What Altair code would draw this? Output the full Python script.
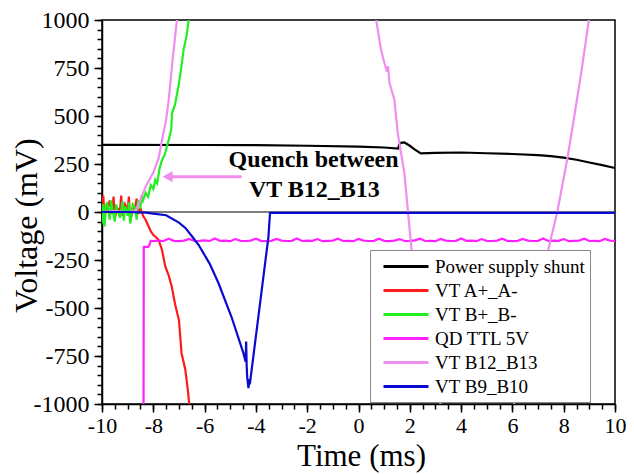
import altair as alt
import pandas as pd

# ---------------- data ----------------
series_names = ["Power supply shunt", "VT A+_A-", "VT B+_B-", "QD TTL 5V", "VT B12_B13", "VT B9_B10"]
series_colors = ["#000000", "#ff1a1a", "#22ee22", "#ff22ff", "#f08ef0", "#0a0ad0"]

shunt_t = [-10, -6, -4, -2, 0, 1.0, 1.55, 1.58, 1.65, 1.79, 2.0, 2.2, 2.43, 3.0, 4.0, 5.0, 6.0, 7.0, 7.5, 8.0, 8.5, 9.0, 9.5, 10]
shunt_v = [350, 349, 348, 345, 340, 336, 330, 350, 360, 362, 345, 325, 305, 308, 310, 306, 302, 296, 291, 283, 272, 258, 244, 229]

va_t = [-10, -9.95, -9.9, -9.85, -9.8, -9.7, -9.6, -9.55, -9.5, -9.4, -9.3, -9.25, -9.2, -9.1, -9.0, -8.95,
        -8.9, -8.8, -8.7, -8.65, -8.6, -8.5, -8.4, -8.3, -8.2, -8.1, -8.0, -7.9, -7.79, -7.66, -7.53, -7.4,
        -7.28, -7.15, -7.0, -6.9, -6.75, -6.65, -6.6]
va_v = [10, 85, -40, 30, 5, 60, -10, 80, -30, 20, 5, 85, -20, 40, 10, 80,
        -50, 15, 30, 70, -10, 20, -20, -40, -70, -100, -120, -130, -146, -198, -285, -330,
        -389, -480, -563, -734, -823, -930, -1000]

vb_t = [-10, -9.95, -9.9, -9.85, -9.8, -9.7, -9.65, -9.6, -9.5, -9.45, -9.4, -9.3, -9.2, -9.15, -9.1,
        -9.0, -8.95, -8.9, -8.8, -8.7, -8.65, -8.6, -8.5, -8.45, -8.4, -8.3, -8.2, -8.1, -8.0, -7.92,
        -7.85, -7.75, -7.66, -7.55, -7.4, -7.3, -7.27, -7.15, -7.0, -6.9, -6.82, -6.7, -6.62]
vb_v = [-60, 40, -75, 30, 50, -40, 60, 20, -50, 40, 10, -30, 55, -45, 30,
        -20, 50, -60, 40, 20, -40, 60, 30, 90, 60, 100, 80, 140, 120, 167,
        150, 230, 271, 300, 375, 430, 514, 560, 670, 760, 844, 920, 1000]

qd_t = [-8.38, -8.37, -8.2, -8.15, -8.1, -8.0,
        -7.8, -7.6, -7.4, -7.2, -7.0, -6.8, -6.6, -6.4, -6.2, -6.0,
        -5.8, -5.6, -5.4, -5.2, -5.0, -4.8, -4.6, -4.4, -4.2, -4.0,
        -3.8, -3.6, -3.4, -3.2, -3.0, -2.8, -2.6, -2.4, -2.2, -2.0,
        -1.8, -1.6, -1.4, -1.2, -1.0, -0.8, -0.6, -0.4, -0.2, 0.0,
        0.2, 0.4, 0.6, 0.8, 1.0, 1.2, 1.4, 1.6, 1.8, 2.0,
        2.2, 2.4, 2.6, 2.8, 3.0, 3.2, 3.4, 3.6, 3.8, 4.0,
        4.2, 4.4, 4.6, 4.8, 5.0, 5.2, 5.4, 5.6, 5.8, 6.0,
        6.2, 6.4, 6.6, 6.8, 7.0, 7.2, 7.4, 7.6, 7.8, 8.0,
        8.2, 8.4, 8.6, 8.8, 9.0, 9.2, 9.4, 9.6, 9.8, 10.0]
qd_v = [-1000, -182, -182, -172, -150, -151,
        -149, -151, -139, -150, -152, -149, -140, -151, -150, -148,
        -151, -138, -150, -149, -152, -141, -150, -151, -149, -139,
        -150, -152, -150, -140, -149, -151, -150, -138, -151, -149,
        -150, -141, -152, -150, -149, -139, -151, -150, -152, -140,
        -149, -151, -150, -139, -150, -152, -149, -141, -151, -150,
        -148, -139, -151, -150, -152, -140, -149, -151, -150, -138,
        -150, -149, -152, -141, -150, -151, -149, -139, -150, -152,
        -150, -140, -149, -151, -150, -138, -151, -149, -150, -141,
        -152, -150, -149, -139, -151, -150, -152, -140, -149, -151]

# VT B12_B13 leaves the plotted range twice: three visible pieces
b12_t1 = [-10, -9.5, -9.0, -8.7, -8.56, -8.3, -8.0, -7.79, -7.66, -7.5, -7.4, -7.25, -7.08]
b12_v1 = [0, 5, 0, 5, 45, 132, 205, 280, 375, 480, 583, 790, 1000]
b12_t2 = [0.69, 0.88, 1.01, 1.11, 1.15, 1.21, 1.40, 1.53, 1.79, 2.06, 2.6, 3.2]
b12_v2 = [1000, 844, 776, 731, 760, 672, 583, 411, 203, -187, -620, -1000]
b12_t3 = [6.06, 7.0, 7.48, 7.75, 8.14, 8.39, 8.7, 8.98]
b12_v3 = [-1000, -436, -150, 0, 276, 479, 740, 1000]

b9_t = [-10, -9, -8.3, -8.0, -7.5, -7.0, -6.75, -6.5, -6.23, -5.8, -5.46, -4.95, -4.49, -4.4, -4.38,
        -4.36, -4.34, -4.29, -4.25, -4.22, -3.8, -3.51, -3.45, 10]
b9_v = [0, 0, -3, -8, -17, -55, -83, -125, -172, -270, -370, -547, -734, -780, -675,
        -800, -860, -917, -870, -880, -435, -128, -5, -5]

# annotation
note_x = [-1.75, -1.72]
note_y = [271, 115]
note_text = ["Quench between", "VT B12_B13"]
arrow_t = [-7.44, -4.56]
arrow_v = [184, 184]

x_major = [-10, -8, -6, -4, -2, 0, 2, 4, 6, 8, 10]
y_major = [-1000, -750, -500, -250, 0, 250, 500, 750, 1000]
x_minor = [x_major[0] + 0.5 * i for i in range(41)]
y_minor = [y_major[0] + 50 * i for i in range(41)]

# ---------------- tables ----------------
pieces = [
    (series_names[0], "a", shunt_t, shunt_v),
    (series_names[1], "a", va_t, va_v),
    (series_names[2], "a", vb_t, vb_v),
    (series_names[3], "a", qd_t, qd_v),
    (series_names[4], "a", b12_t1, b12_v1),
    (series_names[4], "b", b12_t2, b12_v2),
    (series_names[4], "c", b12_t3, b12_v3),
    (series_names[5], "a", b9_t, b9_v),
]
rows = []
for name, seg, ts, vs in pieces:
    for t, v in zip(ts, vs):
        rows.append({"series": name, "seg": name + seg, "t": t, "v": v, "idx": len(rows)})
df = pd.DataFrame(rows)

FONT = "Liberation Serif"
xscale = alt.Scale(domain=[-10, 10], nice=False, zero=False)
yscale = alt.Scale(domain=[-1000, 1000], nice=False, zero=False)

x_axis = alt.Axis(
    values=x_major, title="Time (ms)", orient="bottom",
    labelExpr="datum.value + ''", tickSize=8, labelFont=FONT, labelFontSize=22,
    labelOverlap=False, labelPadding=3, labelFlush=False,
    titleFont=FONT, titleFontSize=31,
    titleX=259, titleY=61, titleBaseline="alphabetic", titleAnchor="middle",
)
y_axis = alt.Axis(
    values=y_major, title="Voltage (mV)", orient="left",
    labelExpr="datum.value + ''", tickSize=8, labelFont=FONT, labelFontSize=24,
    labelOverlap=False, labelPadding=5, labelFlush=False,
    titleFont=FONT, titleFontSize=32,
    titleX=-66, titleY=205, titleBaseline="alphabetic", titleAnchor="middle",
)
x_axis_minor = alt.Axis(values=x_minor, orient="bottom", labels=False, domain=False, tickSize=5, title=None)
y_axis_minor = alt.Axis(values=y_minor, orient="left", labels=False, domain=False, tickSize=5, title=None)

minor = alt.Chart(pd.DataFrame({"t": [-10, 10], "v": [-1000, 1000]})).mark_point(opacity=0).encode(
    x=alt.X("t:Q", scale=xscale, axis=x_axis_minor),
    y=alt.Y("v:Q", scale=yscale, axis=y_axis_minor),
)

zero = alt.Chart(pd.DataFrame({"y": [0]})).mark_rule(color="black", strokeWidth=1.2).encode(
    y=alt.Y("y:Q", scale=yscale, axis=y_axis)
)

lines = alt.Chart(df).mark_line(strokeWidth=2.2, clip=True).encode(
    x=alt.X("t:Q", scale=xscale, axis=x_axis),
    y=alt.Y("v:Q", scale=yscale, axis=y_axis),
    color=alt.Color(
        "series:N",
        scale=alt.Scale(domain=series_names, range=series_colors),
        sort=series_names,
        legend=alt.Legend(
            orient="none", legendX=268, legendY=230, title=None,
            symbolType="M-0.3,0H4.2", symbolSize=400, symbolStrokeWidth=3,
            labelFont=FONT, labelFontSize=19, labelColor="black", labelOffset=37, labelLimit=300,
            padding=5, rowPadding=2, strokeColor="#888888", fillColor="white",
        ),
    ),
    detail="seg:N",
    order="idx:Q",
)

arrow_df = pd.DataFrame({"t": arrow_t, "v": arrow_v})
arrow_line = alt.Chart(arrow_df).mark_line(color="#f08ef0", strokeWidth=3).encode(
    x=alt.X("t:Q", scale=xscale), y=alt.Y("v:Q", scale=yscale)
)
arrow_head = alt.Chart(arrow_df.iloc[[0]]).mark_point(
    shape="triangle-left", filled=True, color="#f08ef0", size=130, opacity=1
).encode(x=alt.X("t:Q", scale=xscale), y=alt.Y("v:Q", scale=yscale))

note = alt.Chart(pd.DataFrame({"x": note_x, "y": note_y, "text": note_text})).mark_text(
    font=FONT, fontSize=24, fontWeight="bold", color="black", baseline="middle", align="center"
).encode(x=alt.X("x:Q", scale=xscale), y=alt.Y("y:Q", scale=yscale), text="text:N")

main = alt.layer(zero, lines, arrow_line, arrow_head, note)

chart = alt.layer(minor, main).resolve_scale(x="independent", y="independent").properties(
    width=513, height=384,
    autosize=alt.AutoSizeParams(type="none"),
    padding={"left": 94, "top": 12, "right": 11, "bottom": 70},
).configure_view(stroke="black", strokeWidth=1.5).configure_axis(
    grid=False, domainColor="black", domainWidth=1.5, tickColor="black", tickWidth=1.5,
    labelFont=FONT, labelColor="black", titleFont=FONT, titleFontSize=32,
    titleFontWeight="normal", titleColor="black",
)

chart.save("out.html", embed_options={"renderer": "svg", "actions": False})
